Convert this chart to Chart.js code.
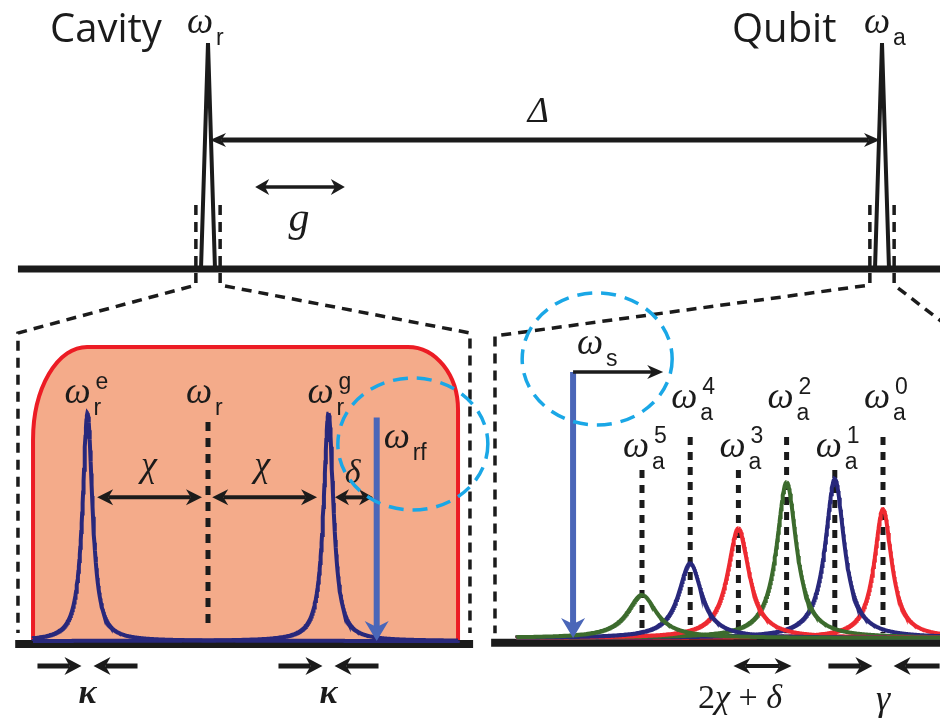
<!DOCTYPE html>
<html>
<head>
<meta charset="utf-8">
<script src="https://cdn.jsdelivr.net/npm/chart.js@4"></script>
<style>
  html, body { margin: 0; padding: 0; background: #fff; }
  #wrap { position: relative; width: 940px; height: 721px; }
</style>
</head>
<body>
<div id="wrap"><canvas id="spec" width="940" height="721"></canvas></div>
<script>
// top panel: bare cavity and qubit lines, x in units of Delta (cavity at 0)
const topNames = ['Cavity', 'Qubit'];
const topSubs = ['r', 'a'];
const topCenters = [0, 1];
const topHeights = [1, 1];
const topHalfBase = 0.0104;
const topSpan = [-0.282, 1.1];

// bottom left: dispersively shifted cavity, x in units of chi around omega_r
const cavLevels = ['e', 'g'];
const cavCenters = [-1, 1];
const cavHeights = [1, 1];
const kappaHalf = 0.05;
const delta = 0.4;
const cavSpan = [-1.6, 2.2];
const driveBand = [-1.452, 2.075];
const driveLevel = 1.29;

// bottom right: photon-number split qubit lines, x in units of (2chi + delta), n = 0 at 0
const photonN = [5, 4, 3, 2, 1, 0];
const qubitCenters = [-5, -4, -3, -2, -1, 0];
const qubitHeights = [0.27, 0.47, 0.69, 0.98, 1.0, 0.81];
const qubitHalfWidth = [0.37, 0.29, 0.27, 0.25, 0.24, 0.22];
const qubitSpan = [-8.13, 1.2];
const specFreq = -6.43;

const W = 940, H = 721;
const ink = '#1b1b1b';
const navy = '#28287c';
const levelColors = ['#ee2a31', navy, '#3c6b2d']; // by n mod 3
const serif = '"Liberation Serif"';
const sans = '"Liberation Sans"';

// min/max so that value v0 sits at pixel p0 and v1 at p1
function hfit(p0, v0, p1, v1) {
  const k = (p1 - p0) / (v1 - v0);
  const min = v0 - p0 / k;
  return { min, max: min + W / k };
}
function vfit(p0, v0, p1, v1) {
  const k = (p0 - p1) / (v1 - v0);
  const max = v1 + p1 / k;
  return { min: max - H / k, max };
}

function lorentzSeries(c, h, w, from, to) {
  const pts = [];
  const n = 900;
  for (let i = 0; i <= n; i++) {
    const x = from + (to - from) * i / n;
    pts.push({ x, y: h / (1 + ((x - c) / w) ** 2) });
  }
  pts.push({ x: c, y: h });
  pts.sort((a, b) => a.x - b.x);
  return pts;
}

const datasets = [];
// top
datasets.push({ data: [{ x: topSpan[0], y: 0 }, { x: topSpan[1], y: 0 }], xAxisID: 'xT', yAxisID: 'yT',
  borderColor: ink, borderWidth: 7, order: 5 });
topCenters.forEach((c, i) => datasets.push({
  data: [{ x: c - topHalfBase, y: 0 }, { x: c, y: topHeights[i] }, { x: c + topHalfBase, y: 0 }],
  xAxisID: 'xT', yAxisID: 'yT', borderColor: ink, borderWidth: 4, borderJoinStyle: 'miter', order: 1 }));
// bottom left
datasets.push({ data: [{ x: cavSpan[0], y: -0.013 }, { x: cavSpan[1], y: -0.013 }], xAxisID: 'xL', yAxisID: 'yL',
  borderColor: ink, borderWidth: 8, order: 5 });
cavCenters.forEach((c, i) => datasets.push({
  data: lorentzSeries(c, cavHeights[i], kappaHalf, driveBand[0], driveBand[1]),
  xAxisID: 'xL', yAxisID: 'yL', borderColor: navy, borderWidth: 4, order: 1 }));
// bottom right
datasets.push({ data: [{ x: qubitSpan[0], y: -0.03 }, { x: qubitSpan[1], y: -0.03 }], xAxisID: 'xR', yAxisID: 'yR',
  borderColor: ink, borderWidth: 8, order: 5 });
qubitCenters.forEach((c, i) => datasets.push({
  data: lorentzSeries(c, qubitHeights[i], qubitHalfWidth[i], -7.6, qubitSpan[1]),
  xAxisID: 'xR', yAxisID: 'yR', borderColor: levelColors[photonN[i] % 3], borderWidth: 4, order: 1 + i * 0.1 }));

function arrow(ctx, x1, y1, x2, y2, o) {
  const dx = x2 - x1, dy = y2 - y1, len = Math.hypot(dx, dy);
  const ux = dx / len, uy = dy / len;
  const L = o.head, Hw = o.half;
  const sx = o.both ? x1 + ux * L * 0.7 : x1, sy = o.both ? y1 + uy * L * 0.7 : y1;
  ctx.save();
  ctx.strokeStyle = ctx.fillStyle = o.color || ink;
  ctx.lineWidth = o.width;
  ctx.setLineDash([]);
  ctx.beginPath();
  ctx.moveTo(sx, sy);
  ctx.lineTo(x2 - ux * L * 0.7, y2 - uy * L * 0.7);
  ctx.stroke();
  const head = (tx, ty, vx, vy) => {
    ctx.beginPath();
    ctx.moveTo(tx, ty);
    ctx.lineTo(tx - vx * L - vy * Hw, ty - vy * L + vx * Hw);
    ctx.lineTo(tx - vx * L * 0.7, ty - vy * L * 0.7);
    ctx.lineTo(tx - vx * L + vy * Hw, ty - vy * L - vx * Hw);
    ctx.closePath();
    ctx.fill();
  };
  head(x2, y2, ux, uy);
  if (o.both) head(x1, y1, -ux, -uy);
  ctx.restore();
}

function dashed(ctx, pts, width, dash, color) {
  ctx.save();
  ctx.strokeStyle = color || ink;
  ctx.lineWidth = width;
  ctx.setLineDash(dash);
  ctx.beginPath();
  ctx.moveTo(pts[0][0], pts[0][1]);
  for (let i = 1; i < pts.length; i++) ctx.lineTo(pts[i][0], pts[i][1]);
  ctx.stroke();
  ctx.restore();
}

function omega(ctx, x, y, sub, sup) {
  ctx.textAlign = 'left';
  ctx.textBaseline = 'alphabetic';
  ctx.fillStyle = ink;
  ctx.font = `italic 37px ${serif}`;
  ctx.fillText('ω', x - 1, y);
  ctx.font = `23px ${sans}`;
  if (sub) ctx.fillText(sub, x + 28, y + 12);
  if (sup) ctx.fillText(sup, x + 30, y - 14);
}

function txt(ctx, s, x, y, font, align) {
  ctx.font = font;
  ctx.textAlign = align || 'center';
  ctx.textBaseline = 'alphabetic';
  ctx.fillStyle = ink;
  ctx.fillText(s, x, y);
}

const decor = {
  id: 'decor',
  beforeDatasetsDraw(chart) {
    const { ctx, scales: s } = chart;
    const xT = v => s.xT.getPixelForValue(v), yT = v => s.yT.getPixelForValue(v);
    const xL = v => s.xL.getPixelForValue(v), yL = v => s.yL.getPixelForValue(v);
    const xR = v => s.xR.getPixelForValue(v), yR = v => s.yR.getPixelForValue(v);

    // drive band behind the cavity lines
    const l = xL(driveBand[0]), r = xL(driveBand[1]), t = yL(driveLevel), b = yL(0);
    ctx.save();
    ctx.beginPath();
    ctx.moveTo(l, b);
    ctx.lineTo(l, t + 93);
    ctx.ellipse(l + 54, t + 93, 54, 93, 0, Math.PI, Math.PI * 1.5);
    ctx.lineTo(r - 50, t);
    ctx.ellipse(r - 50, t + 63, 50, 63, 0, Math.PI * 1.5, Math.PI * 2);
    ctx.lineTo(r, b);
    ctx.fillStyle = '#f4ab8a';
    ctx.fill();
    ctx.strokeStyle = '#ec1c24';
    ctx.lineWidth = 4;
    ctx.stroke();
    ctx.restore();

    // bare cavity marker
    dashed(ctx, [[xL(0), yL(0.96)], [xL(0), yL(0.05)]], 5, [9, 7]);

    // photon-number markers
    photonN.forEach((n, i) => {
      const top = n % 2 ? 1.057 : 1.264;
      dashed(ctx, [[xR(qubitCenters[i]), yR(top)], [xR(qubitCenters[i]), yR(0.03)]], 5, [8, 7]);
    });

    // zoom boxes
    const yTop = yT(0.283), yBot = yT(-0.071);
    const w = 0.018;
    [[0, xL(-1.577), xL(2.174), yL(1.351), yL(0.035)], [1, xR(-8.05), xR(1.6), yR(1.9), yR(0.03)]].forEach(([c, bl, br, bt, bb]) => {
      const a = xT(c - w), z = xT(c + w);
      dashed(ctx, [[a, yTop], [a, yBot], [bl, bt], [bl, bb]], 3.5, [10, 7]);
      dashed(ctx, [[z, yTop], [z, yBot], [br, bt], [br, bb]], 3.5, [10, 7]);
    });
  },
  afterDatasetsDraw(chart) {
    const { ctx, scales: s } = chart;
    const xT = v => s.xT.getPixelForValue(v), yT = v => s.yT.getPixelForValue(v);
    const xL = v => s.xL.getPixelForValue(v), yL = v => s.yL.getPixelForValue(v);
    const xR = v => s.xR.getPixelForValue(v), yR = v => s.yR.getPixelForValue(v);
    const blue = '#4a66b8', cyan = '#1aa7e6';

    // top panel
    txt(ctx, topNames[0], 50, 42, `40px "Open Sans"`, 'left');
    txt(ctx, topNames[1], 732, 42, `40px "Open Sans"`, 'left');
    omega(ctx, xT(topCenters[0]) - 20, 33, topSubs[0]);
    omega(ctx, xT(topCenters[1]) - 17, 33, topSubs[1]);
    const yD = yT(0.571);
    arrow(ctx, xT(0) + 2, yD, xT(1) - 2, yD, { width: 5, head: 16, half: 7, both: true });
    txt(ctx, 'Δ', xT(0.49), yD - 18, `italic 36px ${serif}`);
    const yG = yT(0.363);
    arrow(ctx, xT(0.07), yG, xT(0.203), yG, { width: 3.5, head: 14, half: 8, both: true });
    txt(ctx, 'g', xT(0.135), yG + 44, `italic 42px ${serif}`);

    // bottom left
    const yC = yL(0.63);
    arrow(ctx, xL(-0.92), yC, xL(-0.05), yC, { width: 4, head: 16, half: 8, both: true });
    arrow(ctx, xL(0.035), yC, xL(0.905), yC, { width: 4, head: 16, half: 8, both: true });
    arrow(ctx, xL(1.054), yC, xL(1 + delta - 0.03), yC, { width: 4, head: 14, half: 8, both: true });
    txt(ctx, 'χ', xL(-0.49), yC - 21, `italic 36px ${serif}`);
    txt(ctx, 'χ', xL(0.45), yC - 21, `italic 36px ${serif}`);
    txt(ctx, 'δ', xL(1.2), yC - 14, `italic 34px ${serif}`);
    arrow(ctx, xL(1 + delta), yL(0.98), xL(1 + delta), yL(0), { width: 6, head: 20, half: 12, color: blue });
    const yLab = yL(1.044);
    omega(ctx, xL(cavCenters[0]) - 22, yLab, 'r', cavLevels[0]);
    omega(ctx, xL(0) - 21, yLab, 'r');
    omega(ctx, xL(cavCenters[1]) - 20, yLab, 'r', cavLevels[1]);
    omega(ctx, xL(1 + delta) + 8, yL(0.845), 'rf');
    const yK = 666;
    cavCenters.forEach(c => {
      arrow(ctx, xL(c - kappaHalf) - 44, yK, xL(c - kappaHalf), yK, { width: 5, head: 17, half: 9 });
      arrow(ctx, xL(c + kappaHalf) + 44, yK, xL(c + kappaHalf), yK, { width: 5, head: 17, half: 9 });
      txt(ctx, 'κ', xL(c), yK + 37, `italic bold 34px ${serif}`);
    });
    ctx.save();
    ctx.strokeStyle = cyan; ctx.lineWidth = 3.5; ctx.setLineDash([15, 9]);
    ctx.beginPath(); ctx.ellipse(xL(1.70), yL(0.864), 75, 66, 0, 0, Math.PI * 2); ctx.stroke();
    ctx.restore();

    // bottom right
    const yS = yR(1.673);
    arrow(ctx, xR(specFreq), yS, xR(specFreq), yR(0), { width: 6, head: 20, half: 12, color: blue });
    arrow(ctx, xR(specFreq), yS, xR(-4.56), yS, { width: 3.5, head: 16, half: 7 });
    omega(ctx, xR(specFreq) + 5, yR(1.788), 's');
    photonN.forEach((n, i) => {
      omega(ctx, xR(qubitCenters[i]) - 18, yR(n % 2 ? 1.138 : 1.447), 'a', String(n));
    });
    ctx.save();
    ctx.strokeStyle = cyan; ctx.lineWidth = 3.5; ctx.setLineDash([15, 9]);
    ctx.beginPath(); ctx.ellipse(xR(-5.93), yR(1.755), 75, 66, 0, 0, Math.PI * 2); ctx.stroke();
    ctx.restore();
    arrow(ctx, xR(-3) - 5, yK, xR(-2) + 5, yK, { width: 4, head: 17, half: 8, both: true });
    const g0 = xR(0) - qubitHalfWidth[5] * 48.2;
    const g1 = xR(0) + qubitHalfWidth[5] * 48.2;
    arrow(ctx, g0 - 44, yK, g0, yK, { width: 5, head: 17, half: 9 });
    arrow(ctx, g1 + 46, yK, g1, yK, { width: 5, head: 17, half: 9 });
    txt(ctx, 'γ', xR(0), yK + 44, `italic 36px ${serif}`);
    // 2chi + delta
    const parts = [['2', ''], ['χ', 'italic '], [' + ', ''], ['δ', 'italic ']];
    let px = 698;
    parts.forEach(([p, st]) => {
      ctx.font = `${st}34px ${serif}`;
      ctx.textAlign = 'left';
      ctx.fillStyle = ink;
      ctx.fillText(p, px, yK + 42);
      px += ctx.measureText(p).width;
    });
  }
};

new Chart(document.getElementById('spec'), {
  type: 'scatter',
  data: { datasets: datasets.map(d => Object.assign({ showLine: true, pointRadius: 0, tension: 0, fill: false }, d)) },
  options: {
    responsive: false,
    animation: false,
    events: [],
    layout: { padding: 0 },
    plugins: { legend: { display: false }, tooltip: { enabled: false } },
    scales: {
      xT: Object.assign({ type: 'linear', display: false, bounds: 'data' }, hfit(208, 0, 882, 1)),
      yT: Object.assign({ type: 'linear', display: false, bounds: 'data' }, vfit(269, 0, 43, 1)),
      xL: Object.assign({ type: 'linear', display: false, bounds: 'data' }, hfit(208, 0, 328.5, 1)),
      yL: Object.assign({ type: 'linear', display: false, bounds: 'data' }, vfit(641, 0, 413, 1)),
      xR: Object.assign({ type: 'linear', display: false, bounds: 'data' }, hfit(883, 0, 834.8, -1)),
      yR: Object.assign({ type: 'linear', display: false, bounds: 'data' }, vfit(638, 0, 479, 1))
    }
  },
  plugins: [decor]
});
</script>
</body>
</html>
